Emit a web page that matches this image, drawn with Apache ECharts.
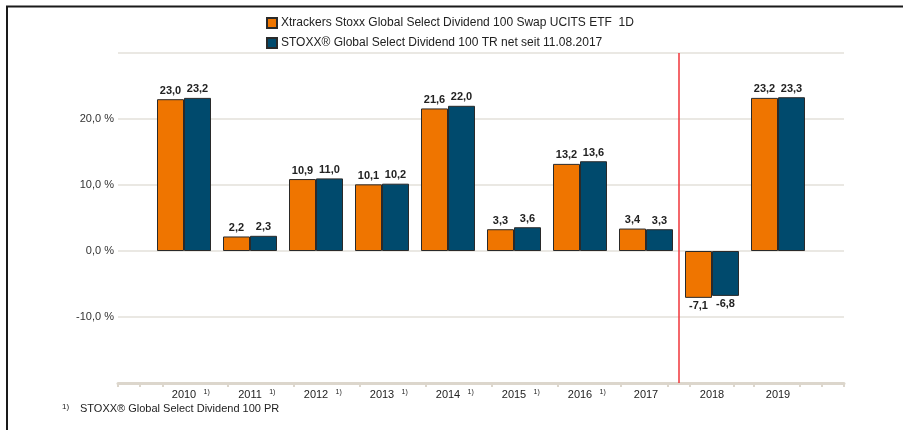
<!DOCTYPE html>
<html>
<head>
<meta charset="utf-8">
<script src="https://cdn.jsdelivr.net/npm/echarts@6/dist/echarts.min.js"></script>
<style>
  html, body { margin: 0; padding: 0; background: #fff; }
  #chart { width: 903px; height: 430px; }
</style>
</head>
<body>
<div id="chart"></div>
<script>
const years = ["2010", "2011", "2012", "2013", "2014", "2015", "2016", "2017", "2018", "2019"];
// years marked with footnote 1)
const footnoted = [true, true, true, true, true, true, true, false, false, false];
const fundName = "Xtrackers Stoxx Global Select Dividend 100 Swap UCITS ETF  1D";
const indexName = "STOXX® Global Select Dividend 100 TR net seit 11.08.2017";
const fundValues = [23.0, 2.2, 10.9, 10.1, 21.6, 3.3, 13.2, 3.4, -7.1, 23.2];
const indexValues = [23.2, 2.3, 11.0, 10.2, 22.0, 3.6, 13.6, 3.3, -6.8, 23.3];
const yTicks = [-20, -10, 0, 10, 20, 30];
const footnoteText = "STOXX® Global Select Dividend 100 PR";
// index switch happens after this year (red line)
const switchAfter = "2017";

const ORANGE = "#ef7500";
const BLUE = "#004a6d";
const FONT = "Liberation Sans, Arial, sans-serif";

// one empty slot at each side, like the original
const categories = ["", ...years, ""];
const pad = (arr) => [null, ...arr, null];
const switchPos = years.indexOf(switchAfter) + 1.5;
const tickMarks = [0, 0.33, 0.68, 1.67, 2.67, 3.67, 4.67, 5.67, 6.67, 7.62, 8.33, 8.67, 9.33, 9.64, 10.33, 10.67, 11];

const fmt = (v) => v.toFixed(1).replace(".", ",");

const myChart = echarts.init(document.getElementById("chart"));

const barLabel = {
  show: true,
  fontFamily: FONT,
  fontSize: 11,
  fontWeight: "bold",
  color: "#222",
  distance: 3,
  formatter: (p) => fmt(p.value)
};

const makeData = (arr) =>
  pad(arr).map((v) =>
    v === null ? null : { value: v, label: { position: v < 0 ? "bottom" : "top" } }
  );

const option = {
  animation: false,
  textStyle: { fontFamily: FONT },
  title: {
    left: 57,
    top: 398,
    text: "{s|1)}{t|" + footnoteText + "}",
    textStyle: {
      fontWeight: "normal",
      rich: {
        s: { fontFamily: FONT, fontSize: 8, fontWeight: "normal", color: "#222", verticalAlign: "top", width: 18, padding: [0, 0, 2, 0] },
        t: { fontFamily: FONT, fontSize: 11, fontWeight: "normal", color: "#222" }
      }
    }
  },
  legend: {
    orient: "vertical",
    left: 261,
    top: 12,
    itemWidth: 10,
    itemHeight: 10,
    itemGap: 8,
    icon: "rect",
    data: [fundName, indexName],
    textStyle: { fontFamily: FONT, fontSize: 12, color: "#222", padding: [0, 0, 0, -1] }
  },
  grid: {
    left: 118,
    right: 59,
    top: 53,
    bottom: 47,
    containLabel: false
  },
  xAxis: [
    {
      type: "category",
      data: categories,
      boundaryGap: false,
      axisLine: { show: false },
      axisTick: { show: false },
      splitLine: { show: false },
      axisLabel: {
        margin: 6,
        interval: 0,
        formatter: (v, i) => {
          if (!v) return "";
          const mark = footnoted[i - 1] ? "1)" : "";
          return "{p|}{y|" + v + "}{s|" + mark + "}";
        },
        rich: {
          p: { width: 17 },
          y: { fontFamily: FONT, fontSize: 11, color: "#222" },
          s: { fontFamily: FONT, fontSize: 7, color: "#222", width: 13, align: "left", verticalAlign: "top", padding: [0, 0, 4, 4] }
        }
      }
    },
    {
      type: "value",
      position: "bottom",
      min: 0,
      max: 11,
      axisLabel: { show: false },
      splitLine: { show: false },
      axisLine: { show: true, lineStyle: { color: "#dcd6cc", width: 3 } },
      axisTick: {
        show: true,
        length: 4,
        customValues: tickMarks,
        lineStyle: { color: "#dcd6cc", width: 2 }
      }
    }
  ],
  yAxis: {
    type: "value",
    min: yTicks[0],
    max: yTicks[yTicks.length - 1],
    interval: 10,
    axisLine: { show: false },
    axisTick: { show: false },
    axisLabel: {
      margin: 4,
      fontFamily: FONT,
      fontSize: 11,
      color: "#333",
      formatter: (v) => (v === yTicks[0] || v === yTicks[yTicks.length - 1] ? "" : fmt(v) + " %")
    },
    splitLine: { show: true, lineStyle: { color: "#e3e0da", width: 1.5 } }
  },
  series: [
    {
      name: fundName,
      type: "bar",
      barWidth: 27,
      barGap: "0%",
      data: makeData(fundValues),
      itemStyle: { color: ORANGE, borderColor: "#2a2a2a", borderWidth: 1 },
      label: barLabel
    },
    {
      name: indexName,
      type: "bar",
      barWidth: 27,
      barGap: "0%",
      data: makeData(indexValues),
      itemStyle: { color: BLUE, borderColor: "#2a2a2a", borderWidth: 1 },
      label: barLabel
    },
    {
      name: "switch",
      type: "line",
      xAxisIndex: 1,
      data: [],
      silent: true,
      z: 5,
      markLine: {
        silent: true,
        symbol: "none",
        label: { show: false },
        lineStyle: { color: "#f0343a", width: 1.5, type: "solid", opacity: 1 },
        emphasis: { disabled: true },
        data: [{ xAxis: switchPos }]
      }
    }
  ],
  graphic: [
    {
      type: "polyline",
      shape: { points: [[7, 430], [7, 6.5], [903, 6.5]] },
      style: { stroke: "#1a1a1a", lineWidth: 2, fill: null },
      silent: true
    }
  ]
};

myChart.setOption(option);
window.onresize = function () {
  myChart.resize();
};
</script>
</body>
</html>
